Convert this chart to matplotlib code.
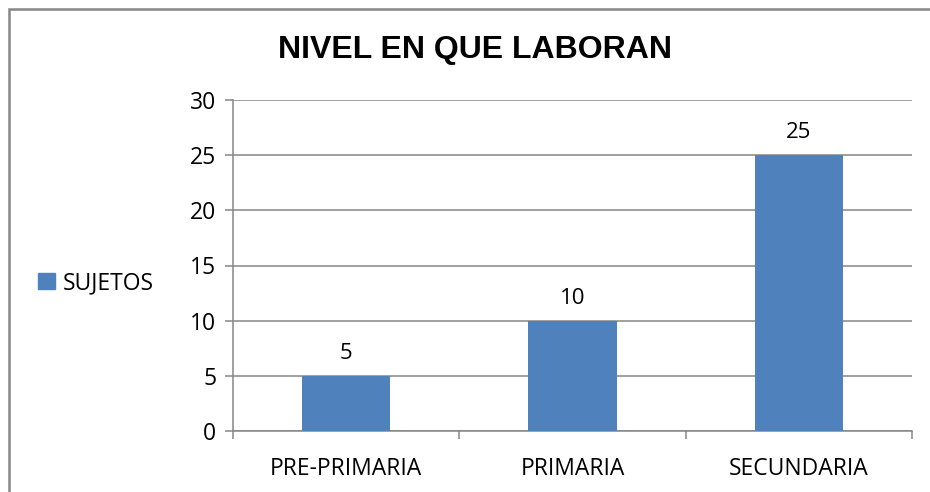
import matplotlib
matplotlib.use("Agg")

import matplotlib.pyplot as plt
from matplotlib.patches import Rectangle, Patch

categories = ["PRE-PRIMARIA", "PRIMARIA", "SECUNDARIA"]
sujetos = [5, 10, 25]
y_ticks = [0, 5, 10, 15, 20, 25, 30]

plt.rcParams["font.family"] = ["Open Sans", "DejaVu Sans"]

fig = plt.figure(figsize=(9.3, 4.92), dpi=100)
# chart area border, only left and top fall inside the picture
fig.patches.append(Rectangle((9 / 930, -0.05), 1.1, 1.05 - 9 / 492, transform=fig.transFigure,
                             fill=False, edgecolor="#868686", linewidth=1.8))

ax = fig.add_axes([233 / 930, 1 - 431 / 492, 679 / 930, 331 / 492])
positions = range(len(categories))
bars = ax.bar(positions, sujetos, width=0.39, color="#4F81BD", zorder=3)

for rect, val in zip(bars, sujetos):
    ax.text(rect.get_x() + rect.get_width() / 2, val + 1.1, str(val),
            ha="center", va="bottom", fontsize=16, color="black")

ax.set_xlim(-0.5, len(categories) - 0.5)
ax.set_ylim(0, 30)
ax.set_yticks(y_ticks)
ax.yaxis.grid(True, color="#868686", linewidth=1.1, zorder=0)
ax.set_axisbelow(True)

ax.set_xticks([p - 0.5 for p in range(len(categories) + 1)])
ax.set_xticklabels([])
ax.set_xticks(list(positions), minor=True)
ax.set_xticklabels(categories, minor=True, fontsize=16.5)
ax.tick_params(axis="x", which="major", direction="out", length=6, color="#868686", width=1.1)
ax.tick_params(axis="x", which="minor", length=0, pad=19)
ax.tick_params(axis="y", direction="out", length=6, color="#868686", width=1.1,
               labelsize=16.5, pad=6)

for side in ["top", "right"]:
    ax.spines[side].set_visible(False)
for side in ["left", "bottom"]:
    ax.spines[side].set_color("#868686")
    ax.spines[side].set_linewidth(1.1)

fig.text(475 / 930, 1 - 50 / 492, "NIVEL EN QUE LABORAN", ha="center", va="center",
         fontsize=23, fontweight="bold", family=["Liberation Sans", "DejaVu Sans"])

fig.legend(handles=[Patch(color="#4F81BD", label="SUJETOS")], loc="center left",
           bbox_to_anchor=(17 / 930, 1 - 283 / 492), frameon=False, fontsize=16.5,
           handlelength=0.75, handleheight=0.75, handletextpad=0.35)

fig.savefig("out.png", dpi=100)
plt.close(fig)
